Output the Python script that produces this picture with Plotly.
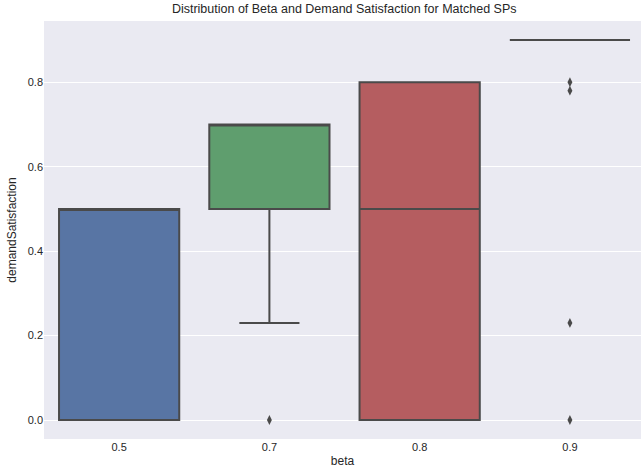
import plotly.graph_objects as go

# Beta levels and the box statistics of demand satisfaction for each
beta = ["0.5", "0.7", "0.8", "0.9"]
q1 = [0.0, 0.5, 0.0, 0.9]
median = [0.5, 0.7, 0.5, 0.9]
q3 = [0.5, 0.7, 0.8, 0.9]
lower_whisker = [0.0, 0.23, 0.0, 0.9]
upper_whisker = [0.5, 0.7, 0.8, 0.9]

# Points beyond the whiskers
outlier_beta = ["0.7", "0.9", "0.9", "0.9", "0.9"]
outlier_value = [0.0, 0.8, 0.78, 0.23, 0.0]

fills = ["#5875a4", "#5f9e6e", "#b55d60", "#8a7fa8"]
line_grey = "#4a4a4a"

fig = go.Figure()
for i, b in enumerate(beta):
    fig.add_trace(go.Box(
        x=[b], q1=[q1[i]], median=[median[i]], q3=[q3[i]],
        lowerfence=[lower_whisker[i]], upperfence=[upper_whisker[i]],
        width=0.8, whiskerwidth=0.5,
        fillcolor=fills[i], line=dict(color=line_grey, width=2),
        boxpoints=False, showlegend=False, hoverinfo="skip",
    ))

fig.add_trace(go.Scatter(
    x=outlier_beta, y=outlier_value, mode="markers",
    marker=dict(symbol="diamond-tall", size=7, color=line_grey,
                line=dict(width=0)),
    showlegend=False,
))

font = "Liberation Sans, Arial, sans-serif"
fig.update_layout(
    width=641, height=476,
    margin=dict(l=44, r=0, t=21, b=37),
    paper_bgcolor="white", plot_bgcolor="#eaeaf2",
    boxmode="overlay",
    font=dict(family=font, size=11, color="#262626"),
    title=dict(text="Distribution of Beta and Demand Satisfaction for Matched SPs",
               x=0.537, xanchor="center", y=0.981, yanchor="middle",
               font=dict(size=12.5, color="#262626")),
    xaxis=dict(type="category", categoryorder="array", categoryarray=beta,
               range=[-0.5, 3.473], showgrid=False, zeroline=False,
               ticks="", title=dict(text="beta", standoff=4, font=dict(size=12))),
    yaxis=dict(range=[-0.045, 0.945], tickvals=[0, 0.2, 0.4, 0.6, 0.8],
               ticktext=["0.0", "0.2", "0.4", "0.6", "0.8"],
               showgrid=True, gridcolor="white", gridwidth=1.2, zeroline=False,
               ticks="", title=dict(text="demandSatisfaction", standoff=8,
                                    font=dict(size=12))),
)

fig.write_html("out.html")
